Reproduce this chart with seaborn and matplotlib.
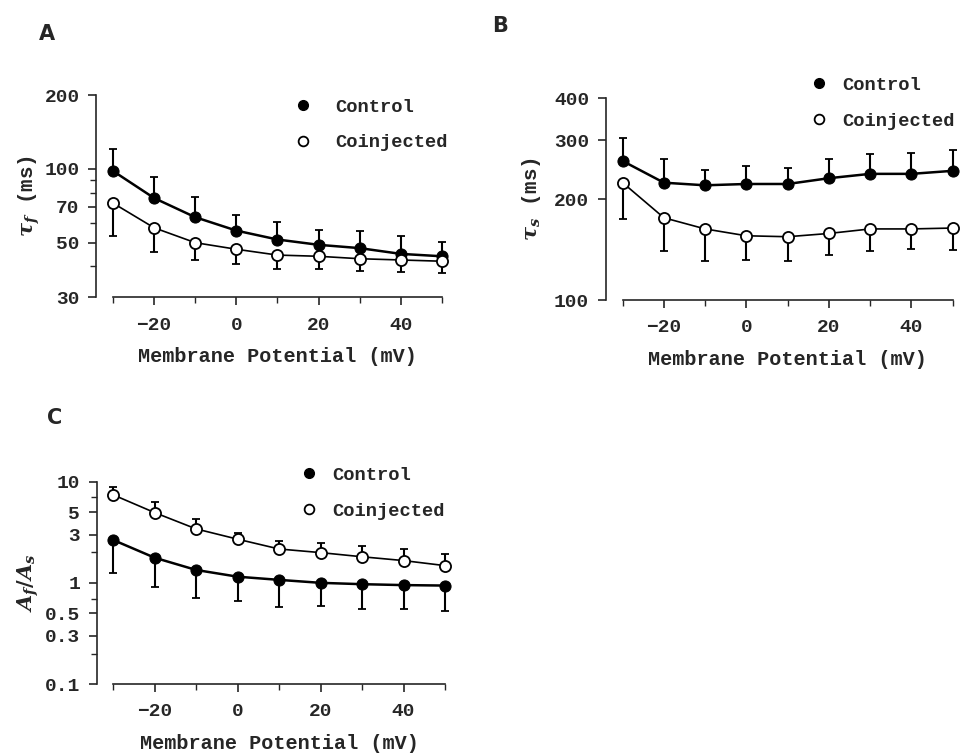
import matplotlib
matplotlib.use("Agg")
import matplotlib.pyplot as plt
import matplotlib.ticker as mticker
from matplotlib.lines import Line2D
import numpy as np
import pandas as pd
import seaborn as sns

# membrane potential (mV)
voltage = [-30, -20, -10, 0, 10, 20, 30, 40, 50]

# panel A: tau_f (ms)
tau_f_control = [98, 76, 63.5, 56, 51.5, 49, 47.5, 45, 44]
tau_f_control_top = [120, 93, 77, 65, 60.5, 56.5, 56, 53, 50.5]
tau_f_coinj = [72.5, 57.5, 50, 47, 44.5, 44, 43, 42.5, 42]
tau_f_coinj_bottom = [53, 46, 42.5, 41, 39, 39, 38.3, 38, 37.7]

# panel B: tau_s (ms)
tau_s_control = [260, 224, 220, 222, 222, 231, 238, 238, 243]
tau_s_control_top = [305, 263, 245, 252, 248, 263, 272, 274, 281]
tau_s_coinj = [224, 176, 163, 155.5, 154.5, 158, 163, 163, 164]
tau_s_coinj_bottom = [175, 140, 131, 131.5, 131, 136, 140, 142, 141]

# panel C: A_f / A_s
ratio_control = [2.65, 1.77, 1.34, 1.15, 1.07, 1.0, 0.97, 0.95, 0.94]
ratio_control_bottom = [1.26, 0.90, 0.71, 0.66, 0.58, 0.59, 0.55, 0.55, 0.53]
ratio_coinj = [7.4, 4.94, 3.41, 2.70, 2.16, 1.99, 1.81, 1.66, 1.48]
ratio_coinj_top = [8.9, 6.3, 4.3, 3.1, 2.6, 2.5, 2.33, 2.15, 1.93]

sns.set_style("ticks")
plt.rcParams['font.family'] = ['Liberation Mono', 'DejaVu Sans']
plt.rcParams['font.weight'] = 'bold'
plt.rcParams['axes.labelweight'] = 'bold'
plt.rcParams['mathtext.fontset'] = 'dejavuserif'
plt.rcParams['axes.linewidth'] = 1.2


def draw_panel(ax, ctrl, ctrl_end, coinj, coinj_end, ylim, yticks, yminor,
               ylabel, ylabelpad, legend_anchor, textpad):
    df = pd.DataFrame({"V": voltage * 2,
                       "value": ctrl + coinj,
                       "group": ["Control"] * 9 + ["Coinjected"] * 9})
    ctrl = np.array(ctrl)
    coinj = np.array(coinj)
    ctrl_end = np.array(ctrl_end)
    coinj_end = np.array(coinj_end)

    # one-sided error bars
    for mean, end in [(ctrl, ctrl_end), (coinj, coinj_end)]:
        lo = np.clip(mean - end, 0, None)
        hi = np.clip(end - mean, 0, None)
        ax.errorbar(voltage, mean, yerr=[lo, hi], fmt='none', ecolor='black',
                    elinewidth=1.5, capsize=3, capthick=1.3, zorder=2,
                    clip_on=False)

    sns.lineplot(data=df[df.group == "Control"], x="V", y="value", ax=ax,
                 color='black', lw=1.8, marker='o', markersize=8,
                 markerfacecolor='black', markeredgecolor='black', zorder=3)
    sns.lineplot(data=df[df.group == "Coinjected"], x="V", y="value", ax=ax,
                 color='black', lw=1.2, marker='o', markersize=8,
                 markerfacecolor='white', markeredgecolor='black',
                 markeredgewidth=1.3, zorder=3)
    for ln in ax.lines:
        ln.set_clip_on(False)

    ax.set_yscale('log')
    ax.set_xlim(-30, 50)
    ax.set_ylim(*ylim)
    ax.set_yticks(yticks)
    ax.yaxis.set_major_formatter(mticker.FuncFormatter(lambda v, p: f"{v:g}"))
    ax.yaxis.set_minor_locator(mticker.FixedLocator(yminor))
    ax.yaxis.set_minor_formatter(mticker.NullFormatter())
    ax.set_xticks([-20, 0, 20, 40])
    ax.xaxis.set_minor_locator(mticker.FixedLocator([-30, -10, 10, 30, 50]))

    sns.despine(ax=ax)
    ax.spines['left'].set_position(('outward', 12))
    ax.tick_params(axis='both', which='major', length=6, width=1.2,
                   labelsize=14)
    ax.tick_params(axis='y', which='major', pad=6)
    ax.tick_params(axis='x', which='major', pad=8)
    ax.tick_params(axis='both', which='minor', length=4, width=1)
    ax.set_xlabel("Membrane Potential (mV)", fontsize=14.5, fontweight='bold',
                  labelpad=10)
    ax.set_ylabel(ylabel, fontsize=15, fontweight='bold', labelpad=ylabelpad)

    handles = [Line2D([], [], ls='none', marker='o', ms=7, mfc='black',
                      mec='black'),
               Line2D([], [], ls='none', marker='o', ms=7, mfc='white',
                      mec='black', mew=1.3)]
    ax.legend(handles, ["Control", "Coinjected"], loc='upper left',
              bbox_to_anchor=legend_anchor, frameon=False, fontsize=13.5,
              handletextpad=textpad, labelspacing=1.0, handlelength=1.0,
              borderaxespad=0)


fig = plt.figure(figsize=(9.6, 7.54), dpi=100)

axA = fig.add_axes([0.1177, 0.606, 0.3427, 0.268])
draw_panel(axA, tau_f_control, tau_f_control_top, tau_f_coinj,
           tau_f_coinj_bottom, (30, 200), [30, 50, 70, 100, 200],
           [40, 60, 80, 90], r"$\tau_f$ (ms)", 2, (0.525, 1.02), 1.25)

axB = fig.add_axes([0.6486, 0.6021, 0.3437, 0.2675])
draw_panel(axB, tau_s_control, tau_s_control_top, tau_s_coinj,
           tau_s_coinj_bottom, (100, 400), [100, 200, 300, 400],
           [], r"$\tau_s$ (ms)", 8, (0.545, 1.145), 0.7)

axC = fig.add_axes([0.118, 0.0928, 0.3455, 0.2684])
draw_panel(axC, ratio_control, ratio_control_bottom, ratio_coinj,
           ratio_coinj_top, (0.1, 10), [0.1, 0.3, 0.5, 1, 3, 5, 10],
           [0.2, 0.7, 2, 7], r"$A_f/A_s$", 3, (0.54, 1.11), 0.7)

fig.text(0.040, 0.955, "A", fontsize=15, fontweight='bold',
         family='DejaVu Sans', va='center')
fig.text(0.513, 0.965, "B", fontsize=15, fontweight='bold',
         family='DejaVu Sans', va='center')
fig.text(0.049, 0.446, "C", fontsize=15, fontweight='bold',
         family='DejaVu Sans', va='center')

fig.savefig("out.png", dpi=100, facecolor='white')
